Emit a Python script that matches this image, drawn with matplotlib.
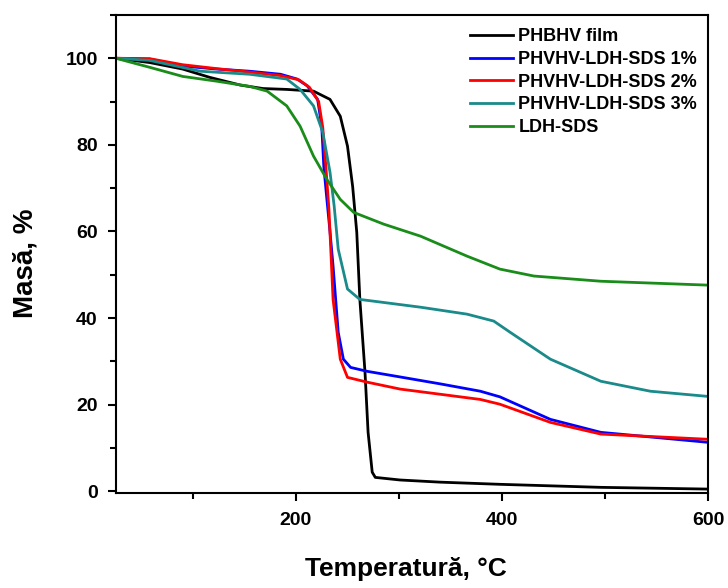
import matplotlib.pyplot as plt
from matplotlib.ticker import MultipleLocator

plt.rcParams['font.family'] = ['Liberation Sans', 'DejaVu Sans']
plt.rcParams['font.weight'] = 'bold'

labels = ["PHBHV film", "PHVHV-LDH-SDS 1%", "PHVHV-LDH-SDS 2%",
          "PHVHV-LDH-SDS 3%", "LDH-SDS"]
colors = ["#000000", "#0000ff", "#ff0000", "#1a8a8a", "#1a8c1a"]

t_film = [25, 58, 90, 116, 146, 168, 191, 217, 233, 243, 250, 255, 259, 262,
          267, 270, 274, 277, 301, 340, 398, 496, 600]
m_film = [100, 99, 97.5, 95.6, 93.8, 93, 92.8, 92.4, 90.5, 86.6, 79.7, 70.4,
          59.8, 44.3, 27.5, 13.6, 4.4, 3.2, 2.6, 2.1, 1.6, 0.9, 0.5]

t_1 = [25, 58, 90, 123, 155, 185, 201, 211, 221, 225, 227, 230, 233, 236,
       241, 246, 253, 269, 301, 340, 379, 398, 447, 496, 600]
m_1 = [100, 99.8, 98.2, 97.5, 97, 96.3, 95.2, 93.6, 90.5, 84.3, 75, 67.4,
       60, 52, 36.7, 30.5, 28.6, 27.7, 26.4, 24.8, 23.1, 21.8, 16.6, 13.6, 11.3]

t_2 = [25, 58, 90, 123, 155, 185, 203, 213, 222, 226, 229, 232, 236, 243,
       250, 269, 301, 340, 379, 398, 447, 496, 600]
m_2 = [100, 99.9, 98.5, 97.6, 96.8, 96, 95, 93.3, 90, 84, 75, 65, 44.3,
       30.5, 26.3, 25.2, 23.6, 22.4, 21.2, 20.1, 15.9, 13.2, 12]

t_3 = [25, 58, 107, 155, 191, 204, 217, 226, 233, 237, 241, 250, 262, 285,
       321, 366, 392, 408, 447, 496, 544, 600]
m_3 = [100, 99.5, 97, 96.3, 95.2, 92.8, 89, 82.9, 73.7, 66, 55.9, 46.7,
       44.3, 43.6, 42.5, 40.9, 39.3, 36.7, 30.5, 25.4, 23.1, 21.9]

t_ldh = [25, 58, 90, 123, 155, 172, 191, 204, 217, 230, 243, 256, 285, 321,
         366, 398, 431, 496, 600]
m_ldh = [100, 97.9, 95.8, 94.7, 93.5, 92.4, 89, 84.3, 77.4, 72, 67.4, 64.4,
         61.7, 58.9, 54.3, 51.3, 49.7, 48.5, 47.6]

temps = [t_film, t_1, t_2, t_3, t_ldh]
masses = [m_film, m_1, m_2, m_3, m_ldh]

fig = plt.figure(figsize=(7.28, 5.88), dpi=100)
ax = fig.add_axes([0.159, 0.1616, 0.8135, 0.813])

for t, m, c, lab in zip(temps, masses, colors, labels):
    ax.plot(t, m, color=c, lw=2, label=lab)

ax.set_xlim(25, 600)
ax.set_ylim(-0.4, 110)
ax.xaxis.set_major_locator(MultipleLocator(200))
ax.xaxis.set_minor_locator(MultipleLocator(100))
ax.yaxis.set_major_locator(MultipleLocator(20))
ax.yaxis.set_minor_locator(MultipleLocator(10))
ax.tick_params(which='major', direction='out', length=6, width=1.5, labelsize=14)
ax.tick_params(axis='y', which='major', pad=7)
ax.tick_params(axis='x', which='major', pad=8)
ax.tick_params(which='minor', direction='out', length=4, width=1.5)
for s in ax.spines.values():
    s.set_linewidth(1.5)

ax.set_xlabel("Temperatură, °C", fontsize=19, fontweight='bold')
ax.xaxis.set_label_coords(0.49, -0.134)
ax.set_ylabel("Masă, %", fontsize=20, fontweight='bold')
ax.yaxis.set_label_coords(-0.13, 0.48)

leg = ax.legend(loc='upper right', frameon=False, fontsize=13,
                handlelength=2.4, handletextpad=0.3, labelspacing=0.32,
                borderaxespad=0.2, bbox_to_anchor=(1.0, 0.995))

fig.savefig("out.png", dpi=100)
